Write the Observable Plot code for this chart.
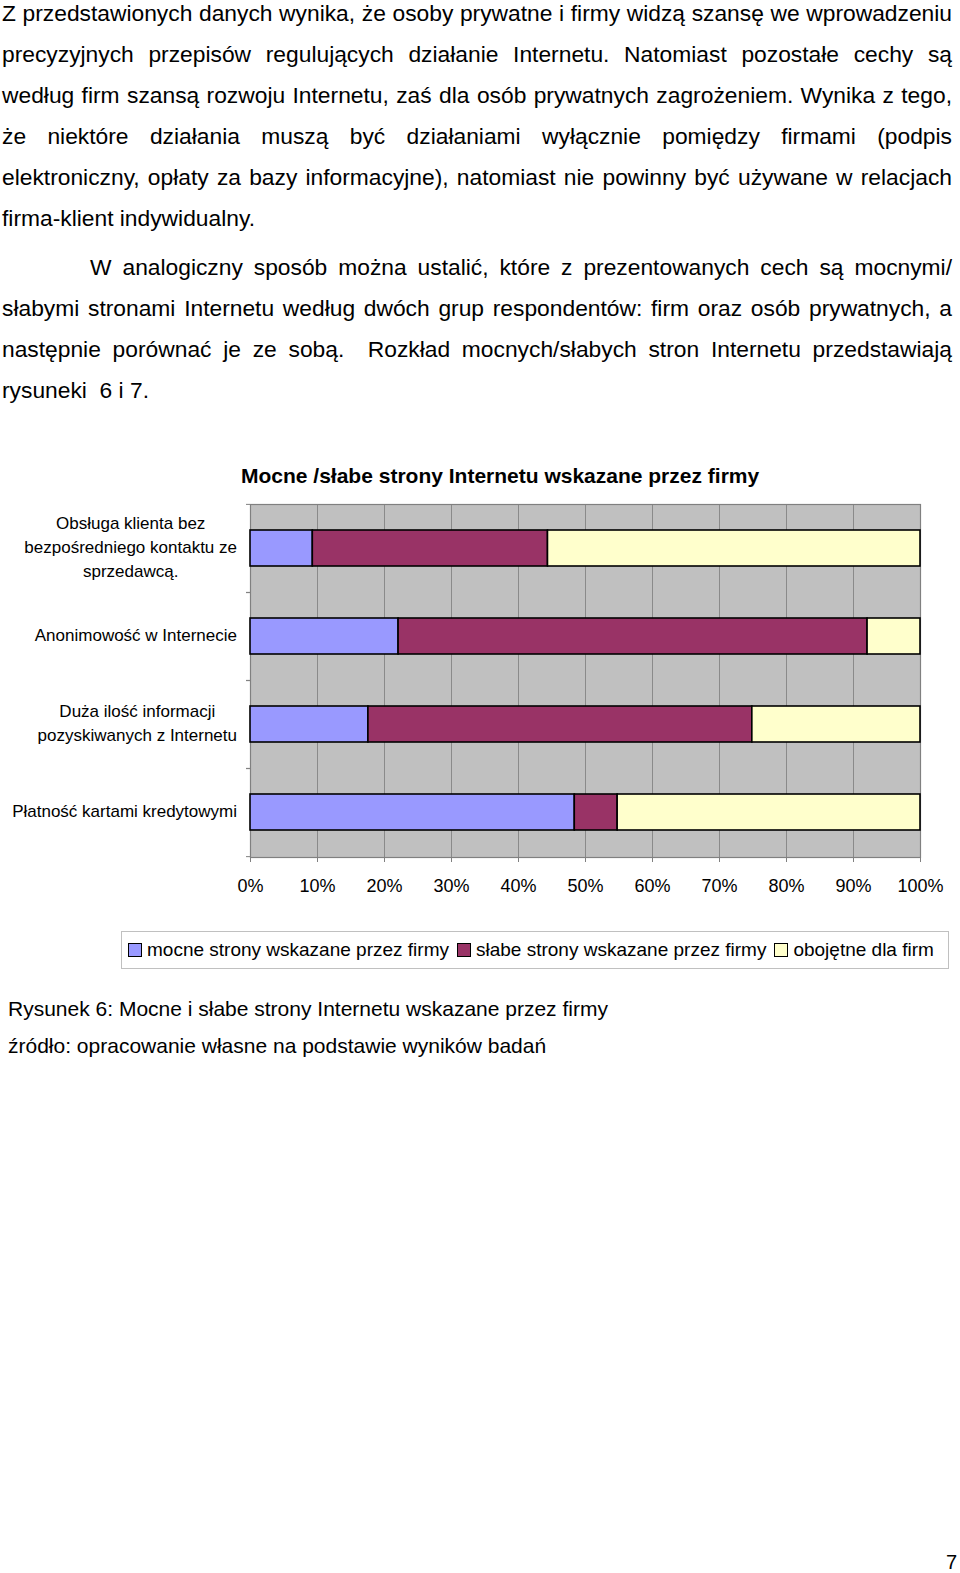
<!DOCTYPE html>
<html>
<head>
<meta charset="utf-8">
<script src="https://cdn.jsdelivr.net/npm/d3@7"></script>
<script src="https://cdn.jsdelivr.net/npm/@observablehq/plot@0.6"></script>
<style>
  html, body { margin: 0; padding: 0; background: #fff; }
  #page { position: relative; width: 960px; height: 1573px; overflow: hidden; font-family: "Liberation Sans", Arial, sans-serif; color: #000; }
  .para { position: absolute; left: 2px; width: 950px; font-size: 22.8px; line-height: 41px; }
  .para div { text-align: justify; text-align-last: justify; white-space: nowrap; }
  .para div.last { text-align-last: left; }
  #title { position: absolute; left: 241px; top: 464px; font-size: 21px; font-weight: bold; white-space: nowrap; }
  #chart { position: absolute; left: 0; top: 490px; }
  #legend { position: absolute; left: 121px; top: 931px; width: 828px; height: 38px; border: 1px solid #c0c0c0; box-sizing: border-box; font-size: 19px; display: flex; align-items: center; padding-left: 6px; white-space: nowrap; }
  .sw { display: inline-block; width: 12px; height: 12px; border: 1px solid #000; margin-right: 5px; }
  .item { margin-right: 8px; display: inline-flex; align-items: center; }
  #caption { position: absolute; left: 8px; top: 990px; font-size: 21px; line-height: 37px; }
  #pagenum { position: absolute; left: 946px; top: 1551px; font-size: 20px; }
</style>
</head>
<body>
<div id="page">
  <div class="para" style="top:-7px">
    <div>Z przedstawionych danych wynika, że osoby prywatne i firmy widzą szansę we wprowadzeniu</div>
    <div>precyzyjnych przepisów regulujących działanie Internetu. Natomiast pozostałe cechy są</div>
    <div>według firm szansą rozwoju Internetu, zaś dla osób prywatnych zagrożeniem. Wynika z tego,</div>
    <div>że niektóre działania muszą być działaniami wyłącznie pomiędzy firmami (podpis</div>
    <div>elektroniczny, opłaty za bazy informacyjne), natomiast nie powinny być używane w relacjach</div>
    <div class="last">firma-klient indywidualny.</div>
  </div>
  <div class="para" style="top:247px">
    <div style="padding-left:88px">W analogiczny sposób można ustalić, które z prezentowanych cech są mocnymi/</div>
    <div>słabymi stronami Internetu według dwóch grup respondentów: firm oraz osób prywatnych, a</div>
    <div>następnie porównać je ze sobą.&nbsp; Rozkład mocnych/słabych stron Internetu przedstawiają</div>
    <div class="last">rysuneki&nbsp; 6 i 7.</div>
  </div>
  <div id="title">Mocne /słabe strony Internetu wskazane przez firmy</div>
  <div id="chart"></div>
  <div id="legend"></div>
  <div id="caption">
    <div>Rysunek 6: Mocne i słabe strony Internetu wskazane przez firmy</div>
    <div>źródło: opracowanie własne na podstawie wyników badań</div>
  </div>
  <div id="pagenum">7</div>
</div>
<script>
// ---- data ----
const categories = [
  "Obsługa klienta bez\nbezpośredniego kontaktu ze\nsprzedawcą.",
  "Anonimowość w Internecie",
  "Duża ilość informacji\npozyskiwanych z Internetu",
  "Płatność kartami kredytowymi"
];
const seriesNames = [
  "mocne strony wskazane przez firmy",
  "słabe strony wskazane przez firmy",
  "obojętne dla firm"
];
const strong  = [9.3, 22.1, 17.6, 48.4];
const weak    = [35.1, 70.0, 57.3, 6.4];
const neutral = [55.6, 7.9, 25.1, 45.2];
const xTicks = [0, 10, 20, 30, 40, 50, 60, 70, 80, 90, 100];
const colors = ["#9999FF", "#993366", "#FFFFCC"];

// ---- table ----
const seriesValues = [strong, weak, neutral];
const rows = [];
categories.forEach((c, i) => {
  seriesNames.forEach((s, j) => rows.push({category: c, series: s, value: seriesValues[j][i]}));
});

const W = 960, H = 412, mT = 14, mB = 45, mL = 250, mR = 40;
const halfStep = (H - mT - mB) / categories.length / 2;

const chart = Plot.plot({
  width: W, height: H,
  marginLeft: mL, marginRight: mR, marginTop: mT, marginBottom: mB,
  style: {fontFamily: "'Liberation Sans', Arial, sans-serif", color: "#000", background: "transparent"},
  x: {domain: [0, 100]},
  y: {domain: categories, paddingInner: 0.59, paddingOuter: 0.295},
  color: {domain: seriesNames, range: colors},
  marks: [
    Plot.frame({fill: "#C0C0C0", stroke: "none"}),
    Plot.ruleX(xTicks, {stroke: "#8a8a8a", strokeWidth: 1}),
    Plot.frame({stroke: "#808080", strokeWidth: 1.2}),
    Plot.barX(rows, Plot.stackX({x: "value", y: "category", fill: "series", order: seriesNames, stroke: "#000", strokeWidth: 1.6})),
    Plot.axisX({ticks: xTicks, tickFormat: d => d + "%", tickSize: 5, tickPadding: 17, fontSize: 18, stroke: "#808080", label: null}),
    Plot.axisY({tickSize: 0, tickPadding: 0, textAnchor: "middle", fontSize: 17, lineHeight: 1.41, dy: -3, label: null, tickFormat: d => d}),
    Plot.axisY({tickSize: 4, tickFormat: () => "", dy: -halfStep, stroke: "#808080", label: null}),
    Plot.axisY({tickSize: 4, tickFormat: () => "", dy: halfStep, stroke: "#808080", label: null})
  ]
});
document.getElementById("chart").appendChild(chart);

// align multi-line category labels: block right edge at marginLeft - 13, lines centered
const svgRect = chart.getBoundingClientRect();
chart.querySelectorAll('g[aria-label="y-axis tick label"] text').forEach(t => {
  const r = t.getBoundingClientRect();
  const right = r.right - svgRect.left;
  const shift = (mL - 13) - right;
  t.setAttribute("transform", (t.getAttribute("transform") || "") + ` translate(${shift},0)`);
});

// legend
const legend = document.getElementById("legend");
seriesNames.forEach((s, j) => {
  const it = document.createElement("span");
  it.className = "item";
  const sw = document.createElement("span");
  sw.className = "sw";
  sw.style.background = colors[j];
  it.appendChild(sw);
  it.appendChild(document.createTextNode(s));
  legend.appendChild(it);
});
</script>
</body>
</html>
